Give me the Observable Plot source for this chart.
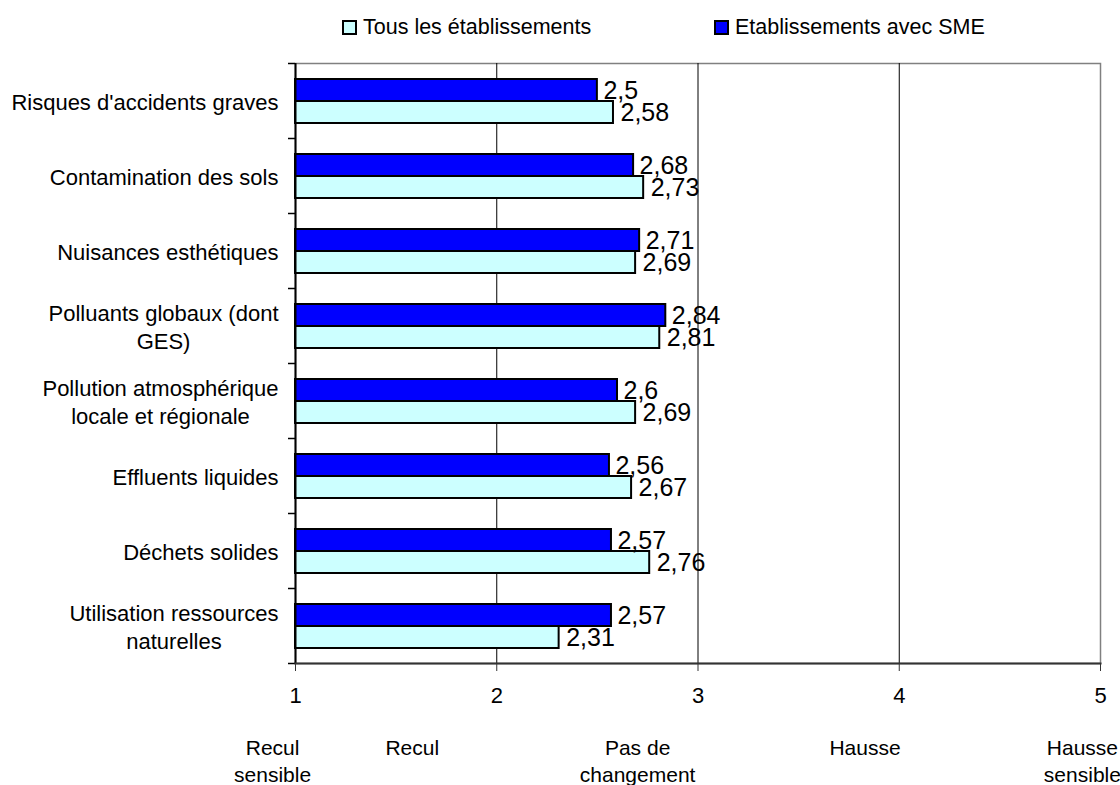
<!DOCTYPE html>
<html>
<head>
<meta charset="utf-8">
<script src="https://cdn.jsdelivr.net/npm/d3@7"></script>
<script src="https://cdn.jsdelivr.net/npm/@observablehq/plot@0.6"></script>
<style>
  html, body { margin: 0; padding: 0; background: #fff; }
  body { width: 1120px; height: 785px; overflow: hidden; font-family: "Liberation Sans", Arial, sans-serif; }
  #wrap { position: relative; width: 1120px; height: 785px; }
  #chart { position: absolute; left: 0; top: 0; z-index: 1; }
  #legend { position: absolute; left: 0; top: 0; z-index: 2; }
  .leg { position: absolute; top: 14px; display: flex; align-items: center; font-size: 21.5px; line-height: 26px; color: #000; white-space: nowrap; }
  .sw { width: 11px; height: 11px; border: 2px solid #000; margin-right: 6px; box-sizing: content-box; }
</style>
</head>
<body>
<div id="wrap">
  <div id="chart"></div>
  <div id="legend"></div>
</div>
<script>
const categories = [
  "Risques d'accidents graves",
  "Contamination des sols",
  "Nuisances esthétiques",
  "Polluants globaux (dont\nGES)",
  "Pollution atmosphérique\nlocale et régionale",
  "Effluents liquides",
  "Déchets solides",
  "Utilisation ressources\nnaturelles"
];
const seriesNames = ["Tous les établissements", "Etablissements avec SME"];
const tousValues = [2.58, 2.73, 2.69, 2.81, 2.69, 2.67, 2.76, 2.31];
const smeValues  = [2.5, 2.68, 2.71, 2.84, 2.6, 2.56, 2.57, 2.57];
const xTicks = [1, 2, 3, 4, 5];
const scaleLabels = ["Recul\nsensible", "Recul", "Pas de\nchangement", "Hausse", "Hausse\nsensible"];

const colors = { tous: "#CCFFFF", sme: "#0000FF" };
const FONT = '"Liberation Sans", Arial, sans-serif';

const W = 1120, H = 785, ML = 295, MR = 20, MT = 63, MB = 122;
const pxPerUnit = (W - ML - MR) / (5 - 1);

const tous = categories.map((c, i) => ({cat: c, value: tousValues[i]}));
const sme = categories.map((c, i) => ({cat: c, value: smeValues[i]}));
const fmt = v => String(v).replace(".", ",");

// category labels: centered lines, block's widest line ending 17px left of the axis
const CAT_FS = 22;
const ctx = document.createElement("canvas").getContext("2d");
ctx.font = CAT_FS + "px " + FONT;
const blockWidth = s => Math.max(...s.split("\n").map(l => ctx.measureText(l).width));
const catLabelX = s => 1 - (17 + blockWidth(s) / 2) / pxPerUnit;

const labelPositions = [0.886, 1.58, 2.70, 3.83, 4.91];
const noText = () => "";

const chart = Plot.plot({
  width: W,
  height: H,
  marginLeft: ML,
  marginRight: MR,
  marginTop: MT,
  marginBottom: MB,
  style: { fontFamily: FONT, background: "transparent", color: "#000", overflow: "visible" },
  x: { domain: [1, 5], axis: null, label: null },
  y: { domain: categories, padding: 0, axis: null, label: null },
  marks: [
    Plot.frame({ stroke: "#808080", strokeWidth: 1.5 }),
    Plot.ruleX([2, 3, 4], { stroke: "#000", strokeWidth: 1 }),
    Plot.barX(sme, { x1: 1, x2: "value", y: "cat", fill: colors.sme, stroke: "#000", strokeWidth: 2, insetTop: 16, insetBottom: 37 }),
    Plot.barX(tous, { x1: 1, x2: "value", y: "cat", fill: colors.tous, stroke: "#000", strokeWidth: 2, insetTop: 38, insetBottom: 15 }),
    Plot.text(sme, { x: "value", y: "cat", text: d => fmt(d.value), textAnchor: "start", dx: 6, dy: -10, fontSize: 25, fill: "#000" }),
    Plot.text(tous, { x: "value", y: "cat", text: d => fmt(d.value), textAnchor: "start", dx: 7, dy: 12, fontSize: 25, fill: "#000" }),
    // left axis line and ticks at category boundaries
    Plot.ruleX([1], { stroke: "#000", strokeWidth: 2 }),
    Plot.axisY({ tickSize: 7, tickFormat: noText, label: null, dy: -37.5, stroke: "#000", strokeWidth: 1.5 }),
    Plot.axisY([categories[categories.length - 1]], { tickSize: 7, tickFormat: noText, label: null, dy: 37.5, stroke: "#000", strokeWidth: 1.5 }),
    // category labels
    Plot.text(categories, {
      y: d => d, x: d => catLabelX(d), text: d => d,
      textAnchor: "middle", fontSize: CAT_FS, lineHeight: 1.27, fill: "#000"
    }),
    // bottom axis
    Plot.frame({ anchor: "bottom", stroke: "#333", strokeWidth: 2 }),
    Plot.axisX({ ticks: xTicks, tickSize: 8, tickFormat: noText, label: null, stroke: "#333" }),
    Plot.text(xTicks, {
      x: d => d, text: d => String(d), frameAnchor: "bottom",
      dy: 39, fontSize: 22, fill: "#000"
    }),
    Plot.text(scaleLabels, {
      x: (d, i) => labelPositions[i], text: d => d,
      frameAnchor: "bottom", lineAnchor: "top", dy: 72,
      fontSize: 21, lineHeight: 1.29, fill: "#000"
    })
  ]
});

document.getElementById("chart").appendChild(chart);

// legend
const legend = document.getElementById("legend");
[[seriesNames[0], colors.tous, 342], [seriesNames[1], colors.sme, 714]].forEach(([name, col, left]) => {
  const d = document.createElement("div");
  d.className = "leg";
  d.style.left = left + "px";
  d.innerHTML = `<span class="sw" style="background:${col}"></span><span>${name}</span>`;
  legend.appendChild(d);
});
</script>
</body>
</html>
